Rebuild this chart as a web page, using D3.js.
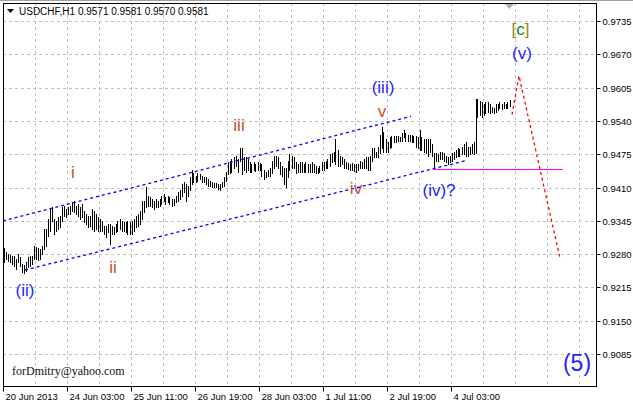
<!DOCTYPE html>
<html><head><meta charset="utf-8">
<script src="https://cdn.jsdelivr.net/npm/d3@7"></script>
<style>body{margin:0;background:#fff}svg{display:block}</style>
</head><body><svg id="c" width="633" height="405"></svg>
<script>
const symbolTitle = "USDCHF,H1";
const lastOHLC = ["0.9571", "0.9581", "0.9570", "0.9581"];
const highs = [
0.9293,0.9285,0.9281,0.9279,0.9277,0.9277,0.9271,0.9281,0.9275,0.9261,
0.9260,0.9265,0.9275,0.9277,0.9277,0.9297,0.9295,0.9293,0.9291,0.9297,
0.9330,0.9330,0.9349,0.9369,0.9372,0.9349,0.9345,0.9353,0.9355,0.9372,
0.9374,0.9369,0.9372,0.9374,0.9382,0.9384,0.9374,0.9378,0.9372,0.9378,
0.9365,0.9359,0.9355,0.9355,0.9369,0.9365,0.9359,0.9353,0.9349,0.9345,
0.9335,0.9335,0.9339,0.9339,0.9335,0.9333,0.9339,0.9345,0.9349,0.9345,
0.9343,0.9343,0.9345,0.9343,0.9345,0.9349,0.9355,0.9359,0.9365,0.9384,
0.9384,0.9411,0.9394,0.9392,0.9388,0.9384,0.9388,0.9384,0.9388,0.9394,
0.9398,0.9392,0.9394,0.9392,0.9388,0.9388,0.9394,0.9402,0.9407,0.9417,
0.9421,0.9417,0.9413,0.9431,0.9446,0.9440,0.9433,0.9440,0.9437,0.9433,
0.9431,0.9431,0.9427,0.9423,0.9421,0.9419,0.9419,0.9417,0.9417,0.9421,
0.9431,0.9442,0.9460,0.9462,0.9466,0.9470,0.9472,0.9466,0.9489,0.9489,
0.9470,0.9470,0.9466,0.9460,0.9456,0.9460,0.9456,0.9460,0.9458,0.9456,
0.9446,0.9442,0.9446,0.9450,0.9462,0.9472,0.9472,0.9470,0.9460,0.9452,
0.9450,0.9450,0.9462,0.9476,0.9472,0.9470,0.9460,0.9456,0.9460,0.9460,
0.9456,0.9460,0.9456,0.9456,0.9460,0.9456,0.9452,0.9450,0.9452,0.9460,
0.9460,0.9462,0.9466,0.9476,0.9479,0.9481,0.9505,0.9485,0.9472,0.9470,
0.9466,0.9460,0.9458,0.9456,0.9458,0.9456,0.9456,0.9456,0.9462,0.9460,
0.9466,0.9470,0.9470,0.9472,0.9489,0.9489,0.9481,0.9491,0.9514,0.9530,
0.9520,0.9505,0.9499,0.9509,0.9511,0.9511,0.9511,0.9511,0.9509,0.9518,
0.9524,0.9518,0.9514,0.9514,0.9514,0.9511,0.9511,0.9509,0.9524,0.9509,
0.9505,0.9505,0.9505,0.9505,0.9495,0.9479,0.9479,0.9476,0.9481,0.9481,
0.9479,0.9472,0.9470,0.9472,0.9479,0.9481,0.9485,0.9489,0.9487,0.9491,
0.9495,0.9499,0.9491,0.9491,0.9495,0.9499,0.9583,0.9583,0.9579,0.9577,
0.9573,0.9577,0.9577,0.9573,0.9569,0.9567,0.9573,0.9573,0.9577,0.9573,
0.9577,0.9573,0.9577,0.9581];
const lows = [
0.9265,0.9271,0.9267,0.9265,0.9261,0.9258,0.9252,0.9265,0.9258,0.9246,
0.9244,0.9248,0.9256,0.9258,0.9261,0.9271,0.9271,0.9269,0.9271,0.9281,
0.9291,0.9297,0.9316,0.9326,0.9345,0.9320,0.9326,0.9330,0.9333,0.9345,
0.9355,0.9353,0.9359,0.9359,0.9365,0.9363,0.9359,0.9355,0.9349,0.9353,
0.9343,0.9339,0.9333,0.9335,0.9330,0.9326,0.9330,0.9326,0.9326,0.9326,
0.9320,0.9314,0.9324,0.9300,0.9320,0.9320,0.9324,0.9326,0.9330,0.9326,
0.9326,0.9324,0.9320,0.9320,0.9320,0.9326,0.9333,0.9335,0.9339,0.9349,
0.9363,0.9372,0.9374,0.9374,0.9372,0.9369,0.9372,0.9372,0.9374,0.9378,
0.9384,0.9378,0.9382,0.9378,0.9374,0.9376,0.9382,0.9384,0.9388,0.9394,
0.9402,0.9384,0.9394,0.9407,0.9417,0.9421,0.9421,0.9423,0.9427,0.9421,
0.9421,0.9417,0.9413,0.9413,0.9411,0.9411,0.9411,0.9409,0.9407,0.9411,
0.9413,0.9423,0.9437,0.9440,0.9442,0.9450,0.9452,0.9442,0.9462,0.9437,
0.9446,0.9442,0.9446,0.9442,0.9442,0.9446,0.9444,0.9446,0.9446,0.9433,
0.9427,0.9431,0.9433,0.9433,0.9440,0.9450,0.9452,0.9450,0.9437,0.9433,
0.9417,0.9411,0.9431,0.9446,0.9450,0.9450,0.9440,0.9442,0.9442,0.9442,
0.9442,0.9442,0.9442,0.9442,0.9442,0.9442,0.9440,0.9440,0.9442,0.9446,
0.9446,0.9450,0.9450,0.9452,0.9460,0.9462,0.9456,0.9452,0.9452,0.9456,
0.9450,0.9450,0.9448,0.9446,0.9446,0.9444,0.9442,0.9446,0.9450,0.9450,
0.9450,0.9450,0.9446,0.9446,0.9462,0.9470,0.9470,0.9470,0.9479,0.9489,
0.9481,0.9481,0.9481,0.9489,0.9491,0.9499,0.9499,0.9501,0.9501,0.9501,
0.9509,0.9501,0.9501,0.9501,0.9499,0.9499,0.9491,0.9489,0.9485,0.9485,
0.9481,0.9479,0.9472,0.9481,0.9472,0.9448,0.9462,0.9462,0.9466,0.9466,
0.9462,0.9460,0.9456,0.9460,0.9462,0.9466,0.9470,0.9472,0.9472,0.9476,
0.9476,0.9472,0.9472,0.9476,0.9479,0.9476,0.9479,0.9549,0.9553,0.9549,
0.9553,0.9557,0.9559,0.9557,0.9559,0.9557,0.9559,0.9563,0.9567,0.9565,
0.9567,0.9567,0.9567,0.9570];
const timeLabels = ["20 Jun 2013","24 Jun 03:00","25 Jun 11:00","26 Jun 19:00","28 Jun 03:00","1 Jul 11:00","2 Jul 19:00","4 Jul 03:00"];
const timeLabelBars = [0,32,64,96,128,160,192,224];
const priceTicks = [0.9735,0.9670,0.9605,0.9540,0.9475,0.9410,0.9345,0.9280,0.9215,0.9150,0.9085];
const upperChannel = [[0,0.9346],[204,0.9550]];
const lowerChannel = [[11,0.9250],[231,0.9463]];
const supportLine = [[215,0.9448],[280,0.9448]];
const projection = [[254.5,0.9553],[258,0.9629],[278.5,0.9273]];
const waveLabels = ["i","ii","iii","iv","v"];
const waveBars = [35,55,118,176.5,189.5];
const wavePrices = [0.9440,0.9255,0.9532,0.9410,0.9559];
const majorLabels = ["(ii)","(iii)","(iv)?","(v)","(5)"];
const majorBars = [11,190,218,259.5,287];
const majorPrices = [0.9209,0.9606,0.9405,0.9672,0.9069];
const majorSizes = [17,17,17,17,23];
const cycleLabel = ["[","c","]"];
const cycleBar = 258.75, cyclePrice = 0.9720;
const authorText = "forDmitry@yahoo.com";
const authorBar = 4.5, authorPrice = 0.9052;

const svg = d3.select("#c");
const L = 3, R = 596, T = 3, B = 386;
const x = d3.scaleLinear().domain([0, 296.5]).range([L, R]);
const y = d3.scaleLinear().domain([0.9085, 0.9735]).range([354.5, 21.5]);
const px = v => Math.floor(v) + 0.5;

svg.append("rect").attr("width",633).attr("height",405).attr("fill","#fff");
svg.append("line").attr("x1",0).attr("x2",633).attr("y1",0.5).attr("y2",0.5).attr("stroke","#a0a0a0");

// grid
const grid = svg.append("g").attr("stroke","#c0c0c0").attr("stroke-dasharray","3,3").attr("shape-rendering","crispEdges");
priceTicks.forEach(p => grid.append("line").attr("x1",L).attr("x2",R).attr("y1",px(y(p))).attr("y2",px(y(p))));
d3.range(16, 296, 16).forEach(b => grid.append("line").attr("x1",px(x(b))).attr("x2",px(x(b))).attr("y1",T).attr("y2",B));

// bars
svg.append("g").attr("stroke","#000").attr("shape-rendering","crispEdges")
  .selectAll("line").data(highs).join("line")
  .attr("x1",(d,i)=>px(x(i))+1).attr("x2",(d,i)=>px(x(i))+1)
  .attr("y1",d=>Math.round(y(d))).attr("y2",(d,i)=>Math.round(y(lows[i]))+1);

// channels
const line = d3.line().x(d=>x(d[0])).y(d=>y(d[1]));
[upperChannel, lowerChannel].forEach(c => svg.append("path").attr("d",line(c)).attr("fill","none")
  .attr("stroke","#0000ff").attr("stroke-width",1.3).attr("stroke-dasharray","3,3"));
svg.append("path").attr("d",line(supportLine)).attr("fill","none").attr("stroke","#ff00ff").attr("shape-rendering","crispEdges")
  .attr("transform","translate(0,0.5)");
svg.append("path").attr("d",line(projection)).attr("fill","none").attr("stroke","#ff0000").attr("stroke-width",1.3).attr("stroke-dasharray","3,3");

// axes
const yAxis = d3.axisRight(y).tickValues(priceTicks).tickSize(4).tickPadding(2).tickFormat(d3.format(".4f"));
const ya = svg.append("g").attr("transform",`translate(${R+0.5},0)`).call(yAxis);
ya.select(".domain").remove();
ya.selectAll(".tick").attr("transform", d => `translate(0,${px(y(d))})`);
ya.selectAll("text").attr("font-family","Liberation Sans, Arial, sans-serif").attr("font-size","9.5px").attr("fill","#000").attr("dy","0.34em");
ya.selectAll("line").attr("stroke","#000");

const xAxis = d3.axisBottom(x).tickValues(timeLabelBars).tickSize(5).tickPadding(2).tickFormat((d,i)=>timeLabels[i]);
const xa = svg.append("g").attr("transform",`translate(0,${B+0.5})`).call(xAxis);
xa.select(".domain").remove();
xa.selectAll(".tick").attr("transform", d => `translate(${px(x(d))},0)`);
xa.selectAll("text").attr("text-anchor","start").attr("x",2).attr("font-family","Liberation Sans, Arial, sans-serif").attr("font-size","9.5px").attr("fill","#000");
xa.selectAll("line").attr("stroke","#000");

// frame
svg.append("rect").attr("x",L+0.5).attr("y",T+0.5).attr("width",R-L).attr("height",B-T).attr("fill","none").attr("stroke","#000");

// shift marker
svg.append("path").attr("d","M505,4 L514,4 L509.5,9 Z").attr("fill","#b0b0b0");

// header
svg.append("path").attr("d","M7,9 L14,9 L10.5,13 Z").attr("fill","#000");
svg.append("text").attr("x",19).attr("y",15).attr("font-family","Liberation Sans, Arial, sans-serif").attr("font-size","10px")
  .attr("fill","#000").text(symbolTitle + "  " + lastOHLC.join(" "));

// wave labels
const lab = svg.append("g").attr("font-family","Liberation Sans, Arial, sans-serif").attr("text-anchor","middle").attr("dominant-baseline","central");
waveLabels.forEach((t,i)=> lab.append("text").attr("x",x(waveBars[i])).attr("y",y(wavePrices[i])).attr("font-size","17px").attr("fill","#c8502d").text(t));
majorLabels.forEach((t,i)=> lab.append("text").attr("x",x(majorBars[i])).attr("y",y(majorPrices[i])).attr("font-size",majorSizes[i]+"px").attr("fill","#2424ff").text(t));
const ct = lab.append("text").attr("x",x(cycleBar)).attr("y",y(cyclePrice)).attr("font-size","17px");
ct.append("tspan").attr("fill","#8a8a10").text(cycleLabel[0]);
ct.append("tspan").attr("fill","#138a13").text(cycleLabel[1]);
ct.append("tspan").attr("fill","#8a8a10").text(cycleLabel[2]);

svg.append("text").attr("x",x(authorBar)).attr("y",y(authorPrice)).attr("dominant-baseline","central")
  .attr("font-family","Liberation Serif, Times New Roman, serif").attr("font-size","12px").attr("fill","#111").text(authorText);
</script></body></html>
